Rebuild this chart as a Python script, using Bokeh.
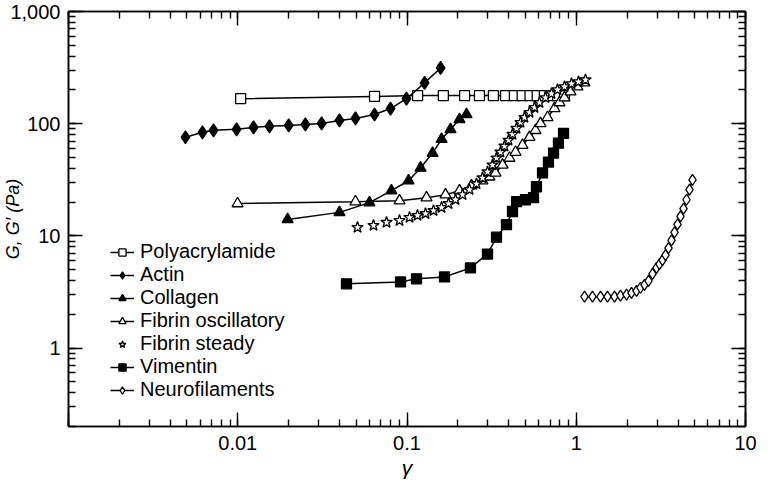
from bokeh.plotting import figure
from bokeh.models import LogAxis, LogTicker, CustomJSTickFormatter, Legend, LegendItem
from bokeh.embed import file_html
from bokeh.resources import INLINE

# ---- data ----
polyacrylamide_x = [0.0104, 0.0643, 0.1155, 0.164, 0.219, 0.268, 0.324, 0.382, 0.431, 0.479, 0.533, 0.588, 0.648, 0.701, 0.776, 0.852]
polyacrylamide_y = [167, 175, 178, 178, 178, 178, 178, 178, 178, 178, 178, 178, 178, 178, 178, 178]

actin_x = [0.00491, 0.00619, 0.00719, 0.00984, 0.0124, 0.0154, 0.0200, 0.0251, 0.0313, 0.0399, 0.0496, 0.0643, 0.0799, 0.0993, 0.127, 0.158]
actin_y = [75.7, 83.8, 87.3, 89.1, 92.7, 94.7, 96.6, 98.6, 100.6, 106.9, 111.4, 120.8, 136.5, 167, 231, 314]

collagen_x = [0.0197, 0.0399, 0.0600, 0.0809, 0.1021, 0.1202, 0.1416, 0.160, 0.1807, 0.2043, 0.2248]
collagen_y = [14.0, 16.2, 19.8, 25.3, 31.0, 40.3, 54.7, 72.7, 89.1, 109, 121]

fibrin_osc_x = [0.00997, 0.0496, 0.0903, 0.1304, 0.1689, 0.2043, 0.2405, 0.2793, 0.3072, 0.3334, 0.3668, 0.4033,
                0.4376, 0.4812, 0.5294, 0.5744, 0.6149, 0.6763, 0.7437, 0.7962, 0.8522, 0.9248, 1.017, 1.119]
fibrin_osc_y = [19.4, 20.2, 20.6, 21.9, 23.3, 25.3, 28.0, 31.0, 33.6, 36.4, 42.9, 49.4,
                55.8, 64.3, 75.7, 87.3, 100.6, 113.8, 136.5, 154.2, 170.6, 192.8, 213.4, 231.5]

fibrin_steady_x = [0.0510, 0.0634, 0.0757, 0.0903, 0.1035, 0.1153, 0.1286, 0.1434, 0.1599, 0.1759, 0.1935, 0.2128,
                   0.2341, 0.2574, 0.2793, 0.2990, 0.3200, 0.3380, 0.3568, 0.3769, 0.3979, 0.4201, 0.4436, 0.4685,
                   0.4946, 0.5294, 0.5667, 0.6066, 0.6580, 0.7141, 0.7747, 0.8522, 0.9374, 1.031, 1.134]
fibrin_steady_y = [11.9, 12.4, 13.2, 13.7, 14.6, 15.2, 15.8, 16.8, 17.9, 19.4, 21.0, 23.3,
                   25.8, 29.1, 32.9, 37.2, 42.9, 49.4, 55.8, 63.1, 71.3, 80.5, 91.0, 102.6,
                   113.8, 125.9, 139.3, 154.2, 170.6, 185.0, 200.8, 213.4, 226.9, 236.3, 245.8]

vimentin_x = [0.0439, 0.0916, 0.1138, 0.1666, 0.237, 0.299, 0.338, 0.387, 0.420, 0.444, 0.501, 0.559,
              0.582, 0.632, 0.685, 0.734, 0.785, 0.841]
vimentin_y = [3.74, 3.89, 4.14, 4.31, 5.18, 6.89, 9.73, 12.6, 16.5, 20.2, 21.0, 21.9,
              27.4, 36.4, 45.5, 54.7, 67.0, 82.1]

neuro_x = [1.119, 1.247, 1.391, 1.530, 1.683, 1.826, 1.982, 2.121, 2.270, 2.397, 2.531, 2.673, 2.821,
           2.980, 3.104, 3.233, 3.368, 3.509, 3.655, 3.807, 3.966, 4.131, 4.303, 4.482, 4.669, 4.863]
neuro_y = [2.87, 2.87, 2.87, 2.87, 2.87, 2.93, 2.99, 3.11, 3.24, 3.45, 3.66, 3.97, 4.58,
           5.18, 5.61, 6.09, 6.74, 7.77, 9.14, 10.76, 12.65, 14.9, 17.5, 21.0, 25.8, 31.6]

series_names = ["Polyacrylamide", "Actin", "Collagen", "Fibrin oscillatory", "Fibrin steady", "Vimentin", "Neurofilaments"]

FONT = "Liberation Sans"

p = figure(width=760, height=484, x_axis_type="log", y_axis_type="log",
           x_range=(0.001, 10), y_range=(0.2, 1000),
           output_backend="svg", toolbar_location=None,
           min_border_left=68, min_border_right=15, min_border_top=11, min_border_bottom=58)
p.xgrid.visible = False
p.ygrid.visible = False
p.outline_line_color = "black"
p.outline_line_width = 1.5
p.background_fill_color = "white"
p.border_fill_color = "white"

def style_axis(ax, show_labels=True):
    ax.axis_line_color = "black"
    ax.axis_line_width = 1.6
    ax.major_tick_line_color = "black"
    ax.minor_tick_line_color = "black"
    ax.major_tick_line_width = 1.4
    ax.minor_tick_line_width = 1.4
    ax.major_tick_in = 14
    ax.major_tick_out = 0
    ax.minor_tick_in = 7
    ax.minor_tick_out = 0
    ax.major_label_text_font = FONT
    ax.major_label_text_font_size = "20px"
    ax.major_label_text_color = "black"
    if not show_labels:
        ax.major_label_text_font_size = "0px"
        ax.major_label_text_alpha = 0

x_fmt = CustomJSTickFormatter(code="""
if (tick < 0.005) { return ""; }
if (tick >= 1) { return String(Math.round(tick)); }
return String(parseFloat(tick.toPrecision(2)));
""")
y_fmt = CustomJSTickFormatter(code="""
if (tick >= 1) { return Math.round(tick).toString().replace(/\\B(?=(\\d{3})+(?!\\d))/g, ","); }
return String(parseFloat(tick.toPrecision(2)));
""")

xa = p.xaxis[0]
ya = p.yaxis[0]
style_axis(xa)
style_axis(ya)
xa.formatter = x_fmt
ya.formatter = y_fmt
xa.major_label_standoff = 9
ya.major_label_standoff = 8
xa.axis_label = "γ"
xa.axis_label_text_font = FONT
xa.axis_label_text_font_style = "italic"
xa.axis_label_text_font_size = "21px"
xa.axis_label_text_color = "black"
xa.axis_label_standoff = 3
ya.axis_label = "G, G′ (Pa)"
ya.axis_label_text_font = FONT
ya.axis_label_text_font_style = "italic"
ya.axis_label_text_font_size = "18px"
ya.axis_label_text_color = "black"
ya.axis_label_standoff = -16

top = LogAxis(ticker=LogTicker(num_minor_ticks=10))
style_axis(top, show_labels=False)
right = LogAxis(ticker=LogTicker(num_minor_ticks=10))
style_axis(right, show_labels=False)
p.add_layout(top, "above")
p.add_layout(right, "right")

def series(x, y, marker, size, fill, with_line=True):
    rs = []
    if with_line:
        rs.append(p.line(x, y, line_color="black", line_width=1.5))
    rs.append(p.scatter(x, y, marker=marker, size=size, fill_color=fill,
                        line_color="black", line_width=1.3))
    return rs

r_poly = series(polyacrylamide_x, polyacrylamide_y, "square", 10, "white")
r_actin = series(actin_x, actin_y, "diamond", 13, "black")
r_coll = series(collagen_x, collagen_y, "triangle", 11, "black")
r_fosc = series(fibrin_osc_x, fibrin_osc_y, "triangle", 11, "white")
r_fst = series(fibrin_steady_x, fibrin_steady_y, "star", 12, "white", with_line=False)
r_vim = series(vimentin_x, vimentin_y, "square", 10, "black")
r_neu = series(neuro_x, neuro_y, "diamond", 11, "white")

all_rs = [r_poly, r_actin, r_coll, r_fosc, r_fst, r_vim, r_neu]
items = [LegendItem(label=n, renderers=r) for n, r in zip(series_names, all_rs)]
legend = Legend(items=items, location=(42, 25), border_line_color=None,
                background_fill_alpha=0, label_text_font=FONT, label_text_font_size="20px",
                label_text_color="black", glyph_width=24, glyph_height=18, label_height=18,
                spacing=0, padding=0, margin=0, label_standoff=6)
p.add_layout(legend)

open("out.html", "w").write(file_html(p, INLINE))
